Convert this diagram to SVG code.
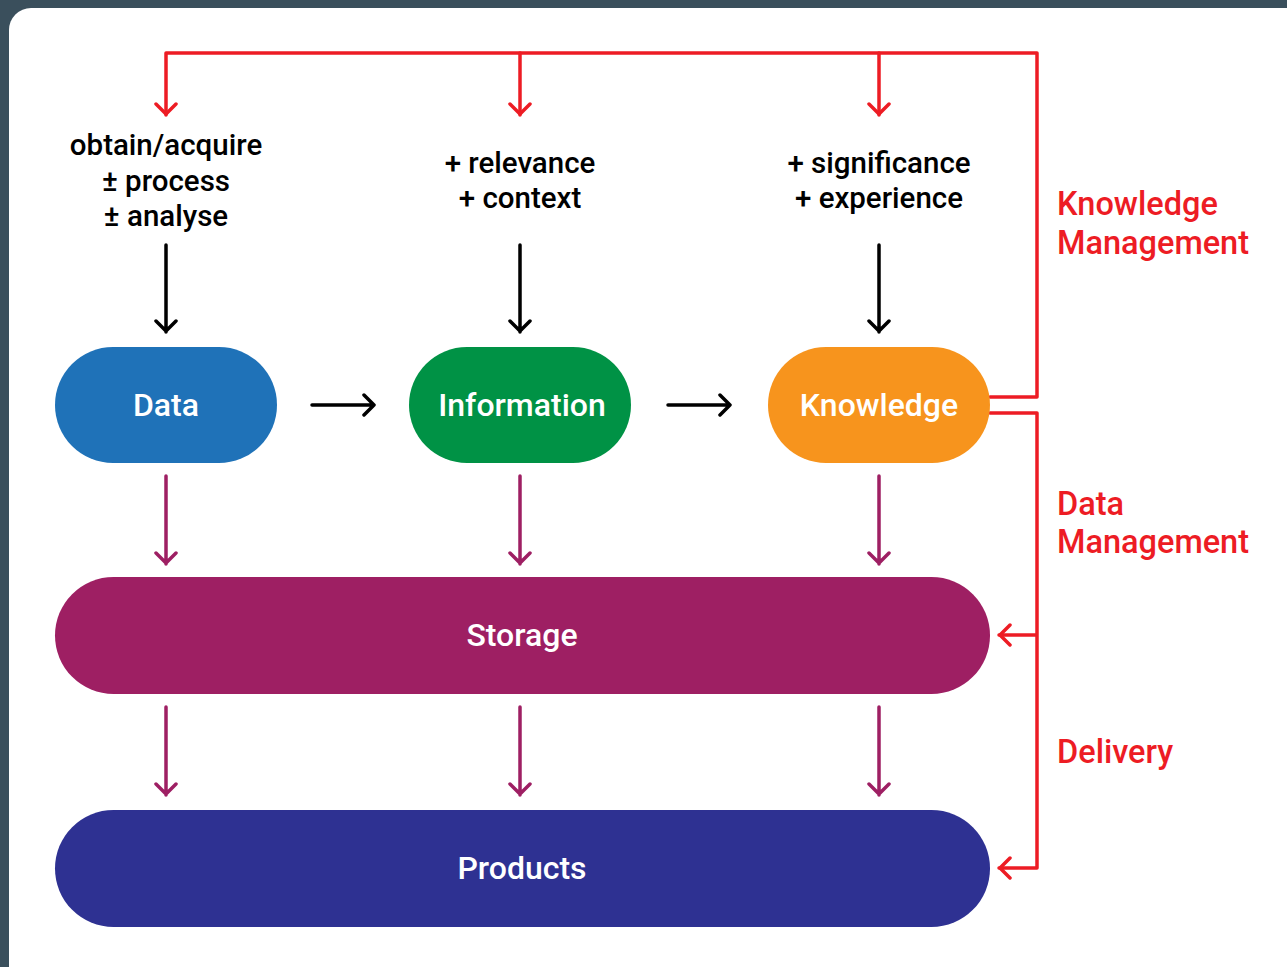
<svg xmlns="http://www.w3.org/2000/svg" width="1287" height="967" viewBox="0 0 1287 967">
<style>
.lbl{font-family:Roboto,"Liberation Sans",sans-serif;font-weight:500;text-anchor:middle}
.node{font-size:32px;fill:#fff}
.top{font-size:29.5px;fill:#000}
.side{font-family:Roboto,"Liberation Sans",sans-serif;font-weight:500;font-size:32.5px;fill:#ed1c24}
.red{stroke:#ed1c24;stroke-width:3.5;fill:none;stroke-linecap:round;stroke-linejoin:round}
.blk{stroke:#000;stroke-width:3.5;fill:none;stroke-linecap:round;stroke-linejoin:round}
.pur{stroke:#9e1f63;stroke-width:3.5;fill:none;stroke-linecap:round;stroke-linejoin:round}
</style>
<rect width="1287" height="967" fill="#3a4f5c"/>
<rect x="9" y="8" width="1310" height="990" rx="22" fill="#fff"/>
<g id="connectors">
<path class="red" d="M166,115 V53 H1037 V397 H990"/>
<path class="red" d="M520,53 V115 M879,53 V115"/>
<path class="red" d="M156,104 L166,114 L176,104 M510,104 L520,114 L530,104 M869,104 L879,114 L889,104"/>
<path class="red" d="M990,413 H1037 V868 H999 M1037,635 H999"/>
<path class="red" d="M1010,625 L1000,635 L1010,645 M1010,858 L1000,868 L1010,878"/>
<path class="blk" d="M166,245 V332 M156,321 L166,331 L176,321 M520,245 V332 M510,321 L520,331 L530,321 M879,245 V332 M869,321 L879,331 L889,321"/>
<path class="blk" d="M312,405 H374 M364,395 L374,405 L364,415 M668,405 H730 M720,395 L730,405 L720,415"/>
<path class="pur" d="M166,476 V564 M156,553 L166,563 L176,553 M520,476 V564 M510,553 L520,563 L530,553 M879,476 V564 M869,553 L879,563 L889,553"/>
<path class="pur" d="M166,707 V795 M156,784 L166,794 L176,784 M520,707 V795 M510,784 L520,794 L530,784 M879,707 V795 M869,784 L879,794 L889,784"/>
</g>
<g id="data"><rect x="55" y="347" width="222" height="116" rx="58" fill="#1f72b8"/><text class="lbl node" x="166" y="416">Data</text></g>
<g id="information"><rect x="409" y="347" width="222" height="116" rx="58" fill="#009245"/><text class="lbl node" x="522" y="416">Information</text></g>
<g id="knowledge"><rect x="768" y="347" width="222" height="116" rx="58" fill="#f7941d"/><text class="lbl node" x="879" y="416">Knowledge</text></g>
<g id="storage"><rect x="55" y="577" width="935" height="117" rx="58.5" fill="#9e1f63"/><text class="lbl node" x="522" y="646">Storage</text></g>
<g id="products"><rect x="55" y="810" width="935" height="117" rx="58.5" fill="#2e3192"/><text class="lbl node" x="522" y="879">Products</text></g>
<g id="step-labels">
<text class="lbl top" x="166" y="155">obtain/acquire</text>
<text class="lbl top" x="166" y="191">± process</text>
<text class="lbl top" x="166" y="226">± analyse</text>
<text class="lbl top" x="520" y="173">+ relevance</text>
<text class="lbl top" x="520" y="208">+ context</text>
<text class="lbl top" x="879" y="173">+ significance</text>
<text class="lbl top" x="879" y="208">+ experience</text>
</g>
<g id="side-labels">
<text class="side" x="1057" y="215">Knowledge</text>
<text class="side" x="1057" y="254">Management</text>
<text class="side" x="1057" y="515">Data</text>
<text class="side" x="1057" y="553">Management</text>
<text class="side" x="1057" y="763">Delivery</text>
</g>
</svg>
